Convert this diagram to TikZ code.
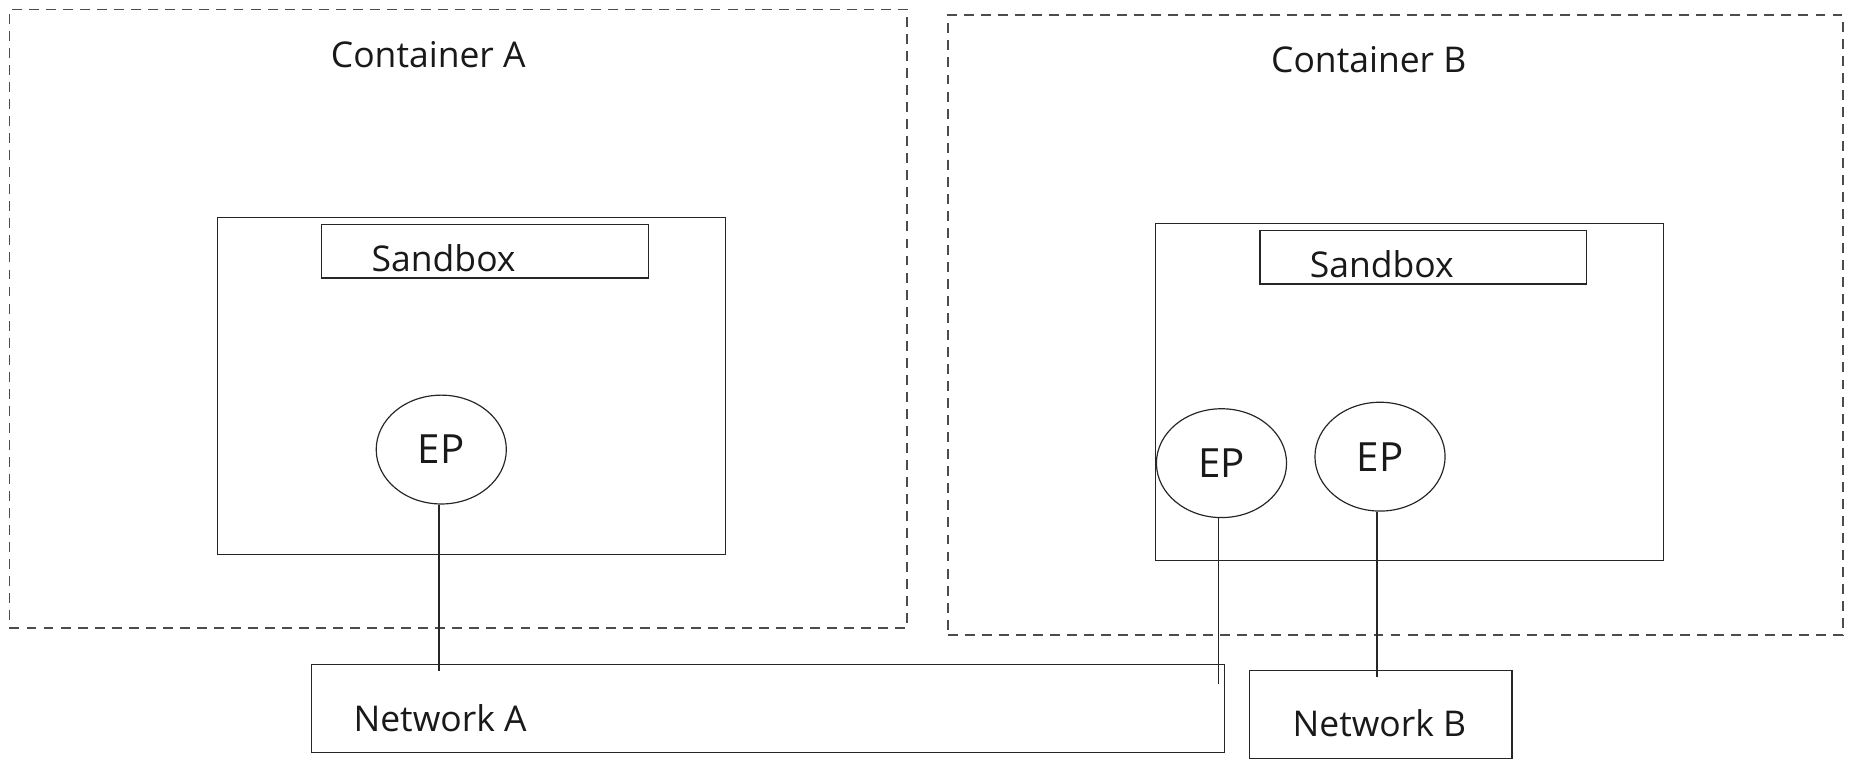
\documentclass[tikz,border=0pt]{standalone}
\usepackage{fontspec}
\setmainfont{Open Sans}
\usetikzlibrary{positioning,shapes.geometric}

\begin{document}
\begin{tikzpicture}[x=0.5pt,y=-0.5pt,
  cont/.style={draw=black!70,line width=0.8pt,dash pattern=on 4.2pt off 3pt,inner sep=0pt},
  sbx/.style={draw=black!85,line width=0.5pt,inner sep=0pt},
  ep/.style={draw=black!85,line width=0.5pt,ellipse,inner sep=0pt,minimum width=55pt,minimum height=46pt,text=black!90,font=\fontsize{17}{20}\selectfont},
  lbl/.style={inner sep=0pt,text=black!90,font=\fontsize{15}{18}\selectfont},
  link/.style={draw=black!85,line width=0.6pt}]
\useasboundingbox (0,0) rectangle (1568,649);
\node[cont,minimum width=379.5pt,minimum height=261.5pt] (contA) at (387.5,269.5) {};
\node[lbl] (contAtxt) at (362,46) {Container A};
\node[cont,minimum width=378.5pt,minimum height=262pt] (contB) at (1179.5,275) {};
\node[lbl] (contBtxt) at (1157,50) {Container B};
\node[sbx,minimum width=214.5pt,minimum height=142.5pt] (sbA) at (398.5,326.5) {};
\node[sbx,minimum width=138pt,minimum height=22.5pt] (sbAhead) at (410,212.5) {};
\node[lbl] (sbAtxt) at (375,218) {Sandbox};
\node[sbx,minimum width=214.5pt,minimum height=142.5pt] (sbB) at (1191.5,331.5) {};
\node[sbx,minimum width=138pt,minimum height=22.5pt] (sbBhead) at (1203,217.5) {};
\node[lbl] (sbBtxt) at (1168,223) {Sandbox};
\node[ep] (epA) at (373,380) {EP};
\node[ep] (epB1) at (1032.5,391.5) {EP};
\node[ep] (epB2) at (1166.5,386) {EP};
\node[sbx,minimum width=386pt,minimum height=37pt] (netA) at (649,599) {};
\node[lbl] (netAtxt) at (372,607) {Network A};
\node[sbx,minimum width=111pt,minimum height=37pt] (netB) at (1167,604) {};
\node[lbl] (netBtxt) at (1166,611) {Network B};
\coordinate (endA) at (371,567);
\coordinate (endB1) at (1030,578);
\coordinate (endB2) at (1164,572);
\draw[link] (epA.south -| endA) -- (endA);
\draw[link] (epB1.south -| endB1) -- (endB1);
\draw[link] (epB2.south -| endB2) -- (endB2);
\end{tikzpicture}
\end{document}
